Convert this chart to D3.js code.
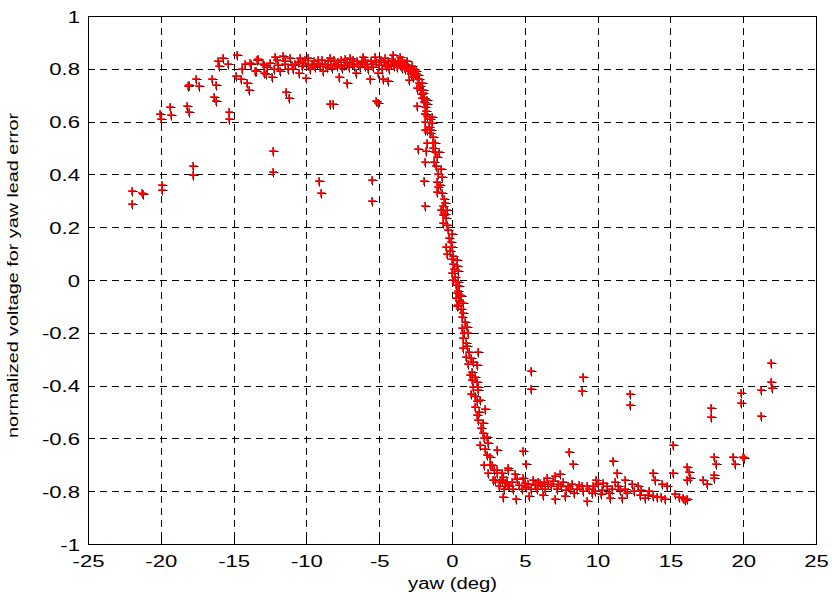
<!DOCTYPE html>
<html>
<head>
<meta charset="utf-8">
<script src="https://cdn.jsdelivr.net/npm/d3@7"></script>
<style>
body { margin:0; background:#fff; }
svg { display:block; font-family:"Liberation Sans", Arial, sans-serif; }
</style>
</head>
<body>
<div id="plot"></div>
<script>
// tick values
var xTicks = [-25,-20,-15,-10,-5,0,5,10,15,20,25];
var yTicks = [-1,-0.8,-0.6,-0.4,-0.2,0,0.2,0.4,0.6,0.8,1];

// [yaw (deg), normalized voltage]
var leftTail = [[-22.0,0.339],[-22.0,0.287],[-21.3,0.33],[-21.2,0.325],[-19.9,0.36],[-19.9,0.34],[-20.05,0.63],[-20.0,0.61],
  [-19.4,0.655],[-19.3,0.625],[-18.2,0.66],[-18.06,0.637],[-18.06,0.74],[-18.1,0.735],[-17.6,0.76],[-17.4,0.735],[-17.8,0.43],
  [-17.8,0.397],[-16.5,0.76],[-16.2,0.74],[-16.35,0.695],[-16.2,0.677],[-16.1,0.83],[-16.0,0.81],[-15.7,0.84],[-15.4,0.82],
  [-15.3,0.637],[-15.3,0.61],[-14.75,0.854],[-14.86,0.773],[-14.5,0.76],[-14.06,0.747],[-13.94,0.72],[-14.4,0.80],[-14.2,0.82],
  [-13.8,0.82],[-13.4,0.833],[-13.5,0.79],[-13.0,0.82],[-12.8,0.78],
  [-12.3,0.49],[-12.3,0.408],[-11.4,0.713],[-11.2,0.69],[-8.4,0.665],[-8.15,0.665],[-9.13,0.375],[-9.0,0.328],
  [-5.5,0.38],[-5.5,0.30],[-5.24,0.678],[-5.1,0.672]];

var upperPlateau = [[-13.87,0.823],[-13.46,0.793],[-13.3,0.836],[-12.9,0.783],[-12.9,0.814],[-12.5,0.823],[-12.38,0.77],
  [-12.16,0.846],[-12.04,0.833],[-11.93,0.814],[-11.6,0.848],[-11.47,0.818],[-11.24,0.80],[-11.0,0.814],[-10.78,0.818],
  [-10.49,0.785],[-10.44,0.84],[-10.2,0.823],[-10.03,0.764],[-9.87,0.84],[-9.64,0.818],[-9.4,0.808],[-9.18,0.833],[-8.88,0.79],
  [-8.72,0.82],[-8.38,0.84],[-8.26,0.802],[-8.04,0.82],[-7.74,0.768],[-7.58,0.802],[-7.23,0.747],[-7.35,0.836],[-7.0,0.84],
  [-6.6,0.783],[-6.43,0.82],[-6.09,0.844],[-5.98,0.81],[-5.63,0.76],[-5.4,0.818],[-5.29,0.844],[-5.06,0.783],[-4.76,0.76],
  [-4.6,0.84],[-4.37,0.752],[-4.49,0.814],[-4.03,0.852],[-3.8,0.818],[-3.57,0.846],[-3.45,0.802],[-3.11,0.83],[-2.93,0.757],
  [-2.77,0.81],[-2.54,0.783],[-2.31,0.76],[-2.42,0.726],[-2.08,0.745],[-2.42,0.66],
  [-12.7,0.805],[-12.2,0.80],[-11.8,0.79],[-11.5,0.83],[-11.1,0.84],[-10.9,0.80],[-10.6,0.825],[-10.3,0.81],[-10.1,0.835],
  [-9.9,0.815],[-9.75,0.80],[-9.5,0.83],[-9.3,0.82],[-9.05,0.81],[-8.95,0.835],[-8.6,0.805],[-8.5,0.83],[-8.3,0.815],
  [-8.1,0.835],[-7.9,0.81],[-7.8,0.825],[-7.6,0.835],[-7.45,0.815],[-7.2,0.825],[-7.1,0.805],[-6.9,0.82],[-6.8,0.835],
  [-6.7,0.81],[-6.5,0.83],[-6.3,0.805],[-6.2,0.825],[-6.0,0.835],[-5.85,0.82],[-5.75,0.8],[-5.55,0.83],[-5.45,0.805],
  [-5.2,0.825],[-5.0,0.815],[-4.9,0.835],[-4.8,0.80],[-4.7,0.825],[-4.55,0.81],[-4.4,0.83],[-4.3,0.80],[-4.2,0.82],
  [-4.1,0.835],[-3.95,0.81],[-3.9,0.825],[-3.75,0.805],[-3.7,0.83],[-3.6,0.815],[-3.5,0.825],[-3.4,0.835],[-3.3,0.81],
  [-3.25,0.82],[-3.2,0.80],[-3.15,0.815],[-3.05,0.79],[-3.0,0.805],[-2.9,0.795],[-2.85,0.78],[-2.7,0.79],[-2.65,0.77],
  [-2.6,0.80],[-2.5,0.775],[-2.45,0.79],[-2.35,0.775],[-2.3,0.745],[-2.25,0.76],[-2.2,0.735],[-2.15,0.72],[-2.1,0.705],
  [-2.05,0.69],[-2.0,0.71],[-1.95,0.675],[-1.9,0.69],[-1.85,0.655],[-1.8,0.64],[-1.75,0.665],[-1.7,0.62]];

var transition = [[-1.97,0.72],[-1.74,0.68],[-1.85,0.63],[-1.51,0.61],[-1.74,0.568],[-1.28,0.518],
  [-1.85,0.629],[-1.39,0.619],[-1.85,0.60],[-1.39,0.596],[-1.85,0.568],[-1.51,0.556],[-1.28,0.543],[-1.74,0.518],[-1.17,0.52],
  [-2.31,0.495],[-1.79,0.49],[-1.17,0.486],[-0.87,0.486],[-1.05,0.467],[-1.85,0.448],[-1.24,0.448],[-0.78,0.419],[-0.71,0.391],
  [-1.92,0.375],[-1.05,0.373],[-0.94,0.351],[-1.05,0.335],[-0.55,0.305],[-0.48,0.293],[-1.85,0.28],[-0.78,0.265],[-0.32,0.265],
  [-0.6,0.246],[-0.41,0.234],[-0.6,0.215],[-0.37,0.208],[-0.02,0.174],[-0.09,0.145],[-0.41,0.126],[-0.02,0.126],[-0.32,0.098],
  [0.09,0.091],[0.32,0.076],[0.05,0.06],[0.32,0.053],[0.43,0.035],[-0.02,0.025],[0.09,0.0],[0.43,-0.006],[0.5,-0.023],
  [0.32,-0.048],[0.55,-0.057],[0.27,-0.07],[0.73,-0.086],[0.43,-0.095],
  [0.6,-0.06],[0.32,-0.1],[0.78,-0.126],[0.89,-0.158],[0.67,-0.183],[1.05,-0.177],[1.12,-0.2],[0.78,-0.22],[0.96,-0.237],
  [0.78,-0.259],[1.19,-0.271],[1.81,-0.271],[0.96,-0.29],[1.28,-0.297],[1.42,-0.309],[1.7,-0.322],[1.35,-0.347],[1.24,-0.36],
  [1.58,-0.369],[1.74,-0.385],[1.81,-0.404],[1.46,-0.404],[1.28,-0.43],[1.81,-0.417],[1.92,-0.455],[1.7,-0.46],[2.27,-0.49],
  [1.58,-0.482],[1.7,-0.511],[1.81,-0.53],[2.15,-0.543],[2.11,-0.58],[2.38,-0.594],[1.92,-0.625],[2.5,-0.619],[3.07,-0.644],
  [2.38,-0.663],[2.6,-0.669],[2.2,-0.70],[2.73,-0.70],[2.5,-0.73],[3.07,-0.73],[3.41,-0.732],[3.87,-0.72],[2.84,-0.759],
  [3.41,-0.759],[3.64,-0.77],[3.87,-0.776],
  [-1.6,0.58],[-1.45,0.57],[-1.3,0.5],[-1.1,0.43],[-0.95,0.40],[-0.85,0.36],[-0.7,0.33],[-0.65,0.28],[-0.5,0.25],[-0.3,0.19],
  [-0.2,0.16],[-0.15,0.11],[0.0,0.08],[0.15,0.04],[0.2,0.01],[0.25,-0.02],[0.4,-0.04],[0.5,-0.08],[0.6,-0.11],[0.7,-0.14],
  [0.85,-0.2],[1.0,-0.25],[1.1,-0.32],[1.4,-0.38],[1.6,-0.44],[1.85,-0.5],[2.0,-0.56],[2.2,-0.6],[2.3,-0.64],[2.6,-0.7],[2.9,-0.72]];

var lowerPlateau = [[5.43,-0.345],[5.43,-0.414],[9.02,-0.369],[8.9,-0.42],[12.2,-0.43],[12.2,-0.473],[4.85,-0.648],[5.08,-0.698],
  [8.06,-0.65],[8.33,-0.696],[11.08,-0.684],[11.31,-0.73],
  [3.07,-0.72],[3.87,-0.713],[4.33,-0.735],[3.52,-0.745],[2.95,-0.758],[3.3,-0.764],[3.76,-0.767],[4.1,-0.764],[4.44,-0.755],
  [4.9,-0.751],[5.24,-0.773],[5.58,-0.758],[5.93,-0.764],[6.16,-0.782],[6.5,-0.751],[6.61,-0.773],[7.07,-0.742],[7.42,-0.735],
  [7.3,-0.773],[7.64,-0.764],[7.99,-0.782],[8.22,-0.773],[8.56,-0.792],[8.9,-0.78],[9.25,-0.782],[9.6,-0.808],[9.89,-0.758],
  [10.05,-0.773],[10.28,-0.795],[10.63,-0.78],[10.97,-0.792],[11.2,-0.764],[11.54,-0.795],[11.88,-0.758],[12.0,-0.808],
  [12.34,-0.773],[12.8,-0.782],[12.9,-0.814],[13.26,-0.827],
  [3.52,-0.823],[4.4,-0.83],[5.31,-0.818],[6.23,-0.816],[7.07,-0.83],[7.76,-0.818],[9.3,-0.837],[10.85,-0.824],[11.65,-0.824],
  [3.2,-0.78],[3.6,-0.79],[3.9,-0.78],[4.2,-0.79],[4.6,-0.775],[4.8,-0.79],[5.0,-0.77],[5.1,-0.785],[5.45,-0.79],[5.7,-0.775],
  [5.85,-0.79],[6.05,-0.77],[6.3,-0.765],[6.4,-0.79],[6.8,-0.78],[6.95,-0.76],[7.2,-0.79],[7.5,-0.78],[7.8,-0.795],[8.1,-0.79],
  [8.4,-0.805],[8.7,-0.775],[9.0,-0.80],[9.4,-0.79],[9.7,-0.78],[9.8,-0.80],[10.2,-0.81],[10.4,-0.77],[10.8,-0.805],[11.4,-0.78],
  [11.9,-0.79],[12.5,-0.80],[13.0,-0.795],[13.5,-0.8]];

var rightTail = [[21.9,-0.316],[21.9,-0.385],[21.95,-0.41],[21.2,-0.417],[21.2,-0.515],[19.83,-0.427],[19.83,-0.467],
  [17.77,-0.485],[17.77,-0.52],[15.2,-0.626],[18.0,-0.672],[18.13,-0.697],[19.28,-0.672],[19.44,-0.697],[19.97,-0.669],
  [20.05,-0.675],[16.16,-0.707],[16.3,-0.726],[16.35,-0.751],[16.16,-0.759],[15.2,-0.73],[13.83,-0.73],[13.94,-0.759],
  [14.4,-0.773],[14.75,-0.78],[17.26,-0.759],[17.53,-0.773],[18.0,-0.738],[18.0,-0.751],[13.48,-0.814],[13.83,-0.82],
  [14.06,-0.823],[14.33,-0.823],[14.63,-0.83],[15.32,-0.81],[15.61,-0.823],[15.89,-0.827],[16.0,-0.835],[16.12,-0.83]];

var points = leftTail.concat(upperPlateau, transition, lowerPlateau, rightTail);

// plot box
var boxLeft = 88, boxRight = 816, boxTop = 16, boxBottom = 544;

var svg = d3.select('#plot')
  .append('svg')
  .attr('width', 832)
  .attr('height', 602);

var x = d3.scaleLinear().domain([-25,25]).range([boxLeft,boxRight]);
var y = d3.scaleLinear().domain([-1,1]).range([boxBottom,boxTop]);

// grid
var grid = svg.append('g').attr('shape-rendering','crispEdges');
grid.selectAll('.vg').data(xTicks.slice(1,-1)).enter()
  .append('line')
  .attr('x1', d => Math.round(x(d)) + 0.5).attr('x2', d => Math.round(x(d)) + 0.5)
  .attr('y1', boxTop).attr('y2', boxBottom)
  .style('stroke','#000').style('stroke-dasharray','7,5');
grid.selectAll('.hg').data(yTicks.slice(1,-1)).enter()
  .append('line')
  .attr('y1', d => Math.round(y(d)) + 0.5).attr('y2', d => Math.round(y(d)) + 0.5)
  .attr('x1', boxLeft).attr('x2', boxRight)
  .style('stroke','#000').style('stroke-dasharray','7,5');

// axes (ticks point inward, like MATLAB)
var xAxis = svg.append('g')
  .attr('transform','translate(0,' + boxBottom + ')')
  .call(d3.axisBottom(x).tickValues(xTicks).tickSize(-5).tickPadding(0).tickFormat(d => String(d)));
var yAxis = svg.append('g')
  .attr('transform','translate(' + boxLeft + ',0)')
  .call(d3.axisLeft(y).tickValues(yTicks).tickSize(-5).tickPadding(0).tickFormat(d => String(+d.toFixed(1))));

svg.selectAll('.domain').remove();
svg.selectAll('.tick line').style('stroke','#000').attr('shape-rendering','crispEdges');
svg.selectAll('.tick text')
  .style('font-family','"Liberation Sans", Arial, sans-serif')
  .style('font-size','16px')
  .style('fill','#000');

xAxis.selectAll('.tick text')
  .attr('y', null).attr('dy', null)
  .attr('transform','translate(0,23) scale(1.38,1)')
  .attr('text-anchor','middle');
yAxis.selectAll('.tick text')
  .attr('x', null).attr('dy', null)
  .attr('transform','translate(-8,6) scale(1.38,1)')
  .attr('text-anchor','end');

// box
svg.append('rect')
  .attr('x', boxLeft + 0.5).attr('y', boxTop + 0.5)
  .attr('width', boxRight - boxLeft).attr('height', boxBottom - boxTop)
  .attr('shape-rendering','crispEdges')
  .style('fill','none').style('stroke','#000');

// markers: black cross peeking out under each red cross
var marks = svg.append('g');
var blackMarks = marks.append('g');
var redMarks = marks.append('g');

blackMarks.selectAll('path').data(points).enter()
  .append('path')
  .attr('d', 'M-3.5,0H5M0,-3.5V5')
  .attr('transform', d => 'translate(' + (Math.round(x(d[0])) + 0.5) + ',' + (Math.round(y(d[1])) + 0.5) + ')')
  .style('stroke','#000').style('stroke-width',1).style('fill','none');
redMarks.selectAll('path').data(points).enter()
  .append('path')
  .attr('d', 'M-4,0H4M0,-4V4')
  .attr('transform', d => 'translate(' + Math.round(x(d[0])) + ',' + Math.round(y(d[1])) + ')')
  .style('stroke','#f00').style('stroke-width',1.6).style('fill','none');

// labels
svg.append('text')
  .attr('x', 408).attr('y', 589)
  .attr('textLength', 89).attr('lengthAdjust','spacingAndGlyphs')
  .style('font-size','16px')
  .text('yaw (deg)');

svg.append('text')
  .attr('transform','translate(18,438) rotate(-90)')
  .attr('textLength', 325).attr('lengthAdjust','spacingAndGlyphs')
  .style('font-size','15px')
  .text('normalized voltage for yaw lead error');
</script>
</body>
</html>
